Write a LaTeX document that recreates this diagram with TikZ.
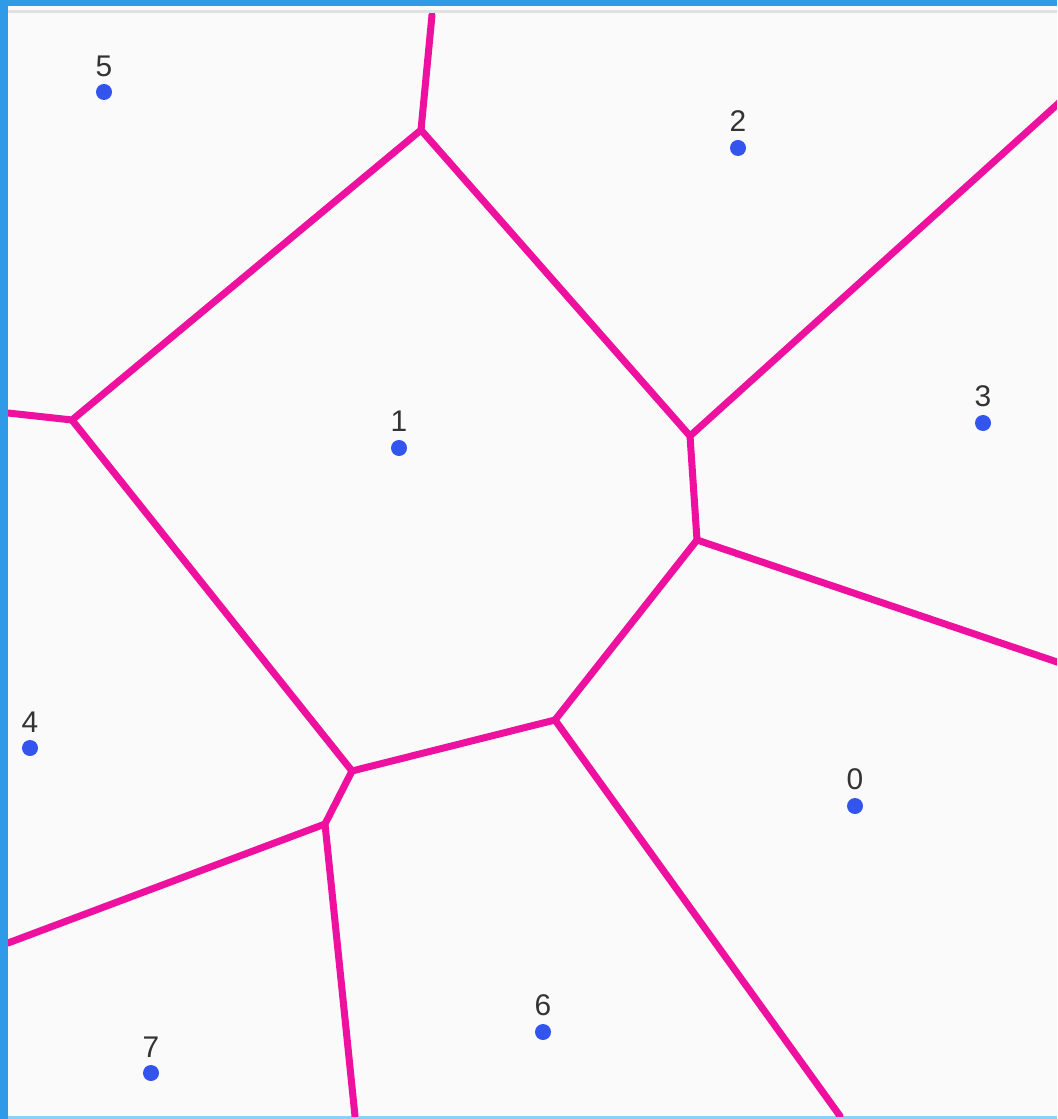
\documentclass[tikz,border=0pt]{standalone}
\usepackage{fontspec}
\setmainfont{Liberation Sans}
\definecolor{edgecol}{RGB}{238,17,160}
\definecolor{sitecol}{RGB}{51,85,238}
\definecolor{lblcol}{RGB}{51,51,51}
\definecolor{bgcol}{RGB}{250,250,250}
\definecolor{framecol}{RGB}{47,155,232}
\definecolor{linecol}{RGB}{225,225,225}
\definecolor{botcol}{RGB}{140,210,245}
\begin{document}
\begin{tikzpicture}[x=0.01cm,y=-0.01cm,
  edge/.style={draw=edgecol,line width=2pt,line cap=round,line join=round},
  site/.style={circle,fill=sitecol,inner sep=0pt,minimum size=0.16cm},
  lbl/.style={text=lblcol,font=\fontsize{8.5}{10}\selectfont,inner sep=0pt}]
\useasboundingbox (0,0) rectangle (1057,1119);
\fill[bgcol] (0,0) rectangle (1057,1119);
% frame
\fill[framecol] (0,0) rectangle (8,1119);
\fill[framecol] (0,0) rectangle (1057,6);
\fill[linecol] (8,10) rectangle (1057,13);
\fill[botcol] (8,1116) rectangle (1057,1119);
% vertices
\coordinate (A) at (421,130);
\coordinate (B) at (72,420);
\coordinate (C) at (690,436);
\coordinate (D) at (697,540);
\coordinate (E) at (555,720);
\coordinate (F) at (352,771);
\coordinate (G) at (325,824);
\coordinate (At) at (432,15);
\coordinate (Bl) at (8,413);
\coordinate (Cr) at (1060,102);
\coordinate (Dr) at (1060,663);
\coordinate (Gl) at (8,943);
\coordinate (Gb) at (355,1116);
\coordinate (Eb) at (840,1116);
\begin{scope}
\clip (8,14) rectangle (1057,1116);
\draw[edge] (At) -- (A) -- (B) -- (Bl);
\draw[edge] (A) -- (C) -- (Cr);
\draw[edge] (C) -- (D) -- (Dr);
\draw[edge] (D) -- (E) -- (Eb);
\draw[edge] (E) -- (F) -- (B);
\draw[edge] (F) -- (G) -- (Gl);
\draw[edge] (G) -- (Gb);
\end{scope}
% sites
\node[site] (s5) at (104,92) {};
\node[site] (s2) at (738,148) {};
\node[site] (s3) at (983,423) {};
\node[site] (s1) at (399,448) {};
\node[site] (s4) at (30,748) {};
\node[site] (s0) at (855,806) {};
\node[site] (s6) at (543,1032) {};
\node[site] (s7) at (151,1073) {};
\node[lbl] (l5) at (104,66) {5};
\node[lbl] (l2) at (738,121) {2};
\node[lbl] (l3) at (983,396) {3};
\node[lbl] (l1) at (399,421) {1};
\node[lbl] (l4) at (30,722) {4};
\node[lbl] (l0) at (855,779) {0};
\node[lbl] (l6) at (543,1005) {6};
\node[lbl] (l7) at (151,1047) {7};
\end{tikzpicture}
\end{document}
